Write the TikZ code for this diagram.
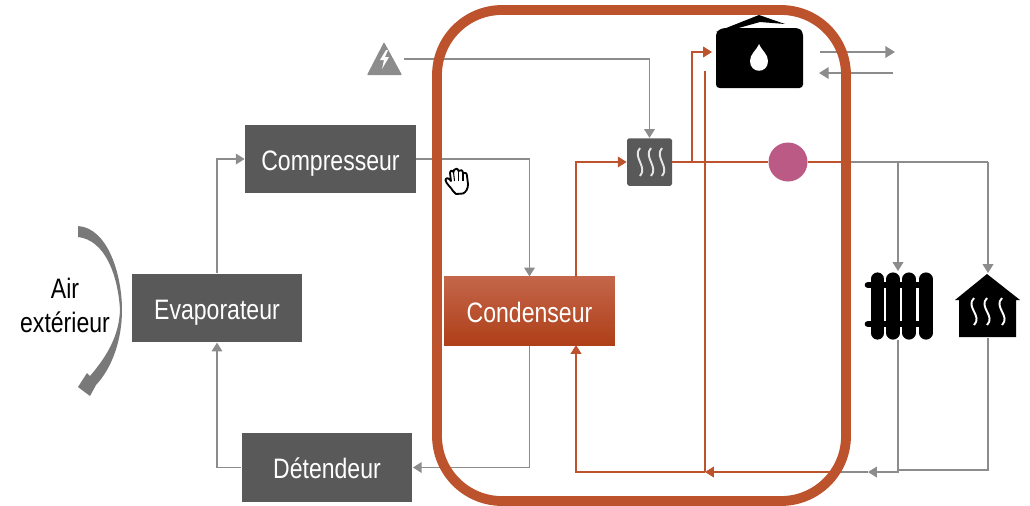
\documentclass[tikz,border=0pt]{standalone}
\usepackage{fontspec}
\setmainfont[FakeStretch=0.82]{Liberation Sans}
\usetikzlibrary{arrows.meta}
\definecolor{boxgray}{HTML}{595959}
\definecolor{linegray}{HTML}{8C8C8C}
\definecolor{rust}{HTML}{BC532D}
\definecolor{rustlight}{HTML}{C4664A}
\definecolor{rustmid}{HTML}{BF4F25}
\definecolor{rustdark}{HTML}{AE3F18}
\definecolor{pinkpump}{HTML}{BC5A86}
\tikzset{
    box/.style={fill=boxgray, text=white, minimum width=3.42cm, minimum height=1.37cm, inner sep=0pt, text height=13pt, text depth=.1pt, font=\fontsize{16}{16}\selectfont},
    hot/.style={draw=rust, line width=.9pt},
    cold/.style={draw=linegray, line width=.9pt},
    tip/.style={-{Triangle[length=5pt,width=6pt]}},
    bigtip/.style={-{Triangle[length=5.5pt,width=6.5pt]}}
}
\begin{document}
\begin{tikzpicture}[x=.02cm, y=-.02cm]
    \useasboundingbox (0, 0) rectangle (1030, 505);

    \node[box] (comp) at (330.5, 159){Compresseur};
    \node[box] (evap) at (217, 308){Evaporateur};
    \node[box] (det) at (327, 467.5){Détendeur};
    \node[box, fill=none, top color=rustlight, middle color=rustmid, bottom color=rustdark] (cond) at (529.5, 311){Condenseur};
    \node[fill=boxgray, rounded corners=1pt, minimum width=.9cm, minimum height=.95cm, inner sep=0pt] (heat) at (649.5, 162){};
    \node[circle, fill=pinkpump, minimum size=.78cm, inner sep=0pt] (pump) at (788, 162){};

    % source, tank and emitters
    \fill[linegray, rounded corners=.5pt] (384, 42) -- (402, 75) -- (367, 75) -- cycle;
    \fill[white] (386, 50) -- (380, 60) -- (384, 60) -- (382, 69) -- (389, 57) -- (385, 57) -- (388, 50) -- cycle;
    \fill[black, rounded corners=2pt] (716, 88) -- (716, 32) -- (722, 28) -- (799, 28) -- (803, 32) -- (803, 88) -- cycle;
    \fill[black] (716, 32) -- (759, 15) -- (785, 24) -- (760, 22) -- (735, 29) -- cycle;
    \fill[white] (759, 44) .. controls (762, 51) and (768, 54) .. (768, 61) .. controls (768, 74) and (750, 74) .. (750, 61) .. controls (750, 54) and (756, 51) .. (759, 44);
    \foreach \x in {877.5, 893, 909, 926}
        \draw[black, line width=7.5pt, line cap=round] (\x, 279) -- (\x, 333);
    \draw[black, line width=3.8pt, line cap=round] (868, 285) -- (926, 285);
    \draw[black, line width=3.8pt, line cap=round] (868, 324) -- (926, 324);
    \fill[black] (987, 274) -- (1020, 300) -- (1016, 300) -- (1016, 337) -- (959, 337) -- (959, 300) -- (955, 300) -- cycle;
    \foreach \x in {974, 987, 1002}
        \draw[white, line width=1.1pt] (\x, 298) .. controls (\x-9, 307) and (\x+9, 316) .. (\x, 325);
    \foreach \x in {640, 651, 662}
        \draw[white!90!black, line width=1.1pt] (\x, 148) .. controls (\x-8, 157) and (\x+8, 167) .. (\x, 176);

    \coordinate (elec) at (404, 59);
    \coordinate (condup) at (576, 277);
    \coordinate (conddown) at (576, 345);
    \coordinate (tankin) at (712, 52);
    \coordinate (tankout) at (705, 71);
    \coordinate (split) at (898, 162);
    \coordinate (wall) at (846, 162);
    \coordinate (rad) at (898, 271);
    \coordinate (house) at (988, 273);
    \coordinate (radback) at (898, 340);
    \coordinate (houseback) at (988, 338);
    \coordinate (retjoin) at (840, 472);
    \coordinate (retA) at (868, 472);
    \coordinate (retB) at (705, 472);
    \coordinate (retC) at (576, 472);
    \coordinate (useout) at (820, 52);
    \coordinate (useoutend) at (895, 52);
    \coordinate (usein) at (893, 73);
    \coordinate (useinend) at (819, 73);

    % refrigerant loop
    \draw[cold, tip] (comp.east) -| (cond.north);
    \draw[cold, tip] (cond.south) |- (det.east);
    \draw[cold, tip] (det.west) -| (evap.south);
    \draw[cold, tip] (evap.north) |- (comp.west);

    % water loop
    \draw[cold, tip] (elec) -| (heat.north);
    \draw[hot, tip] (condup) |- (heat.west);
    \draw[hot] (heat.east) -- (pump.west);
    \draw[hot, tip] (692, 162) |- (tankin);
    \draw[hot] (pump.east) -- (wall);
    \draw[cold] (wall) -- (988, 162);
    \draw[cold, tip] (split) -- (rad);
    \draw[cold, tip] (988, 162) -- (house);
    \draw[cold] (houseback) -- (988, 470) -- (898, 470);
    \draw[cold, tip] (radback) |- (retA);
    \draw[cold] (retA) -- (retjoin);
    \draw[hot, tip] (retjoin) -- (retB);
    \draw[hot, tip] (retB) -- (retC) -- (conddown);
    \draw[hot] (tankout) -- (retB);
    \draw[cold, line width=1.2pt, bigtip] (useout) -- (useoutend);
    \draw[cold, line width=1.2pt, bigtip] (usein) -- (useinend);

    % heat pump frame
    \draw[rust, line width=5.6pt, rounded corners=1.3cm] (437, 10) rectangle (846, 501);

    % outside air
    \fill[gray!95!black] (78, 226) .. controls (108, 228) and (122, 275) .. (122, 310) .. controls (122, 340) and (112, 368) .. (96, 385) -- (90, 396) -- (78, 387) -- (87, 373) -- (90, 376) .. controls (108, 355) and (119, 335) .. (120, 310) .. controls (118, 275) and (105, 240) .. (78, 237) -- cycle;
    \node[font=\fontsize{16}{16}\selectfont] (air) at (65, 288){Air};
    \node[font=\fontsize{16}{16}\selectfont] (ext) at (65, 322){extérieur};

    % hand cursor
    \draw[black, fill=white, line width=1.05pt, line join=round] (453, 191) .. controls (451, 187) and (446, 184) .. (445.5, 180) .. controls (446, 177) and (449, 178) .. (451, 181) -- (450, 173) .. controls (450, 170) and (453, 170) .. (453.5, 172) -- (454, 170) .. controls (455, 168) and (458, 168) .. (458.5, 171) .. controls (460, 169) and (463, 170) .. (463, 173) .. controls (465, 172) and (467, 173) .. (467, 176) -- (468, 184) .. controls (468, 189) and (466, 192) .. (463, 193.5) -- (456, 194) -- cycle;
    \draw[black, line width=.6pt] (453.5, 172) -- (454.5, 181);
    \draw[black, line width=.6pt] (458.5, 171) -- (458.5, 181);
    \draw[black, line width=.6pt] (463, 173) -- (463, 181);
\end{tikzpicture}
\end{document}
